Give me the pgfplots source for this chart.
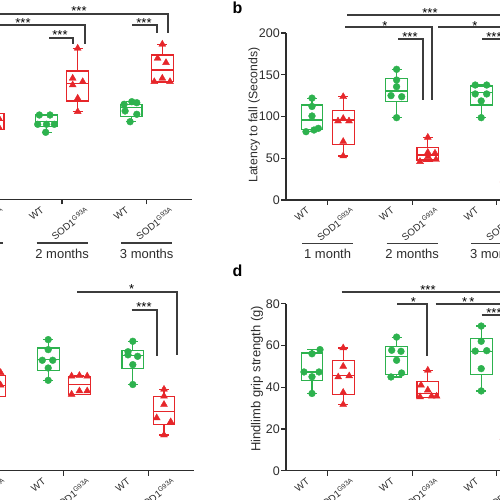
\documentclass[border=0pt]{standalone}
\usepackage{pgfplots}
\pgfplotsset{compat=1.18}
\usepgfplotslibrary{statistics}
\usepackage{fontspec}
\setmainfont{Liberation Sans}
\definecolor{G}{RGB}{45,178,78}
\definecolor{R}{RGB}{230,38,42}
\definecolor{T}{RGB}{45,45,45}
\definecolor{L}{RGB}{60,60,60}
\newcommand{\fs}[1]{\fontsize{#1}{#1}\selectfont}
% box: color, position, lower whisker, lower quartile, median, upper quartile, upper whisker
\newcommand{\bx}[7]{\addplot[#1, line width=1.1pt, boxplot/draw direction=y, boxplot prepared={draw position=#2, lower whisker=#3, lower quartile=#4, median=#5, upper quartile=#6, upper whisker=#7, box extend=21.7, whisker extend=10}] coordinates {};}
\tikzset{grp/.style={L, line width=1.6pt}}
\pgfplotsset{
 panel/.style={scale only axis, width=256pt, height=167pt, xmin=-26, xmax=230,
  anchor=south west, axis lines*=left, axis line style={line width=1.3pt, T},
  tick align=outside, major tick length=5pt, tick style={line width=1.3pt, T},
  xtick={15.6,100.2,184.8}, xticklabels={},
  extra x ticks={-6,38.6,78.6,123.2,163.2,207.8},
  extra x tick labels={WT,SOD1\textsuperscript{G93A},WT,SOD1\textsuperscript{G93A},WT,SOD1\textsuperscript{G93A}},
  extra x tick style={major tick length=0pt, tick label style={yshift=-6.7pt, rotate=38, anchor=north east, font=\fs{9.8}, text=T, inner sep=0pt}},
  yticklabel style={font=\fs{12.5}, text=T, inner sep=1pt},
  /pgf/number format/assume math mode=true, clip=false,
  ylabel style={text=T}},
}
\begin{document}
\begin{tikzpicture}
\path[use as bounding box] (0pt,0pt) rectangle (500pt,500pt);
\clip (0pt,0pt) rectangle (500pt,500pt);
% ---------------- panel a ----------------
\begin{axis}[panel, at={(-64.1pt,300.7pt)}, ymin=0, ymax=167, ytick=\empty]
\bx{R}{31.2}{60}{70}{79}{86}{95}
\bx{G}{84.6}{67}{72.6}{78}{84.3}{84.5}
\bx{R}{115.8}{87.6}{98.3}{116}{128.3}{151}
\bx{G}{169.2}{77.6}{82.6}{91.5}{95}{97.6}
\bx{R}{200.4}{117}{117.5}{129.3}{144.3}{155}
\addplot[only marks, mark=*, mark size=3.4pt, G] coordinates {(77.4,84.3)(88.1,84.3)(75.8,75)(84.6,75)(92.4,75)(83.8,67)
 (162.2,95)(169.9,97.6)(174.9,96.6)(163.2,88.3)(174.9,85)(168.2,77.6)};
\addplot[only marks, mark=triangle*, mark size=4pt, R] coordinates {(31.2,95)(37,81)(26,84)(31.2,74)(37,72)(31.2,60)
 (115.8,151)(110.8,121)(120.8,117.6)(110.8,114.3)(115.8,101)(115.8,87.6)
 (200.4,155)(195.7,141)(204.1,136.6)(192.4,117.6)(200.4,121)(208.1,117.6)};
\draw[grp] (axis cs:15.6,0) ++(-25.5pt,-43.5pt) -- ++(51pt,0pt);
\draw[grp] (axis cs:100.2,0) ++(-25.5pt,-43.5pt) -- ++(51pt,0pt);
\draw[grp] (axis cs:184.8,0) ++(-25.5pt,-43.5pt) -- ++(51pt,0pt);
\node[anchor=base, font=\fs{13}, text=T] at ([yshift=-59.3pt]axis cs:15.6,0) {1 month};
\node[anchor=base, font=\fs{13}, text=T] at ([yshift=-59.3pt]axis cs:100.2,0) {2 months};
\node[anchor=base, font=\fs{13}, text=T] at ([yshift=-59.3pt]axis cs:184.8,0) {3 months};
\end{axis}
% ---------------- panel b ----------------
\begin{axis}[panel, at={(286pt,300pt)}, ymin=0, ymax=200, ytick={0,50,100,150,200},
 ylabel={Latency to fall (Seconds)}, ylabel style={at={(axis description cs:-0.124,0.509)}, anchor=center, font=\fs{12.3}}]
\bx{G}{0}{81.8}{84.6}{95.8}{113.8}{122}
\bx{R}{31.2}{52.7}{67}{95.8}{107}{123.7}
\bx{G}{84.6}{98.6}{117.7}{130.5}{145.7}{156.5}
\bx{R}{115.8}{45.9}{47.9}{53.9}{62.7}{75}
\bx{G}{169.2}{98.6}{113.8}{128.5}{136.5}{137.7}
\bx{R}{200.4}{15}{19}{26}{32}{40}
\addplot[only marks, mark=*, mark size=3.4pt, G] coordinates {(0,122)(0,112)(0,100.6)(6.3,85.8)(-6,81.8)(2,83.8)
 (84.6,156.5)(84.6,143.7)(84.6,135.7)(79,125)(89.7,123.7)(84.6,98.6)
 (163.2,137.7)(174.7,137.7)(163.2,127)(174.7,127)(169.2,118.6)(169.2,98.6)};
\addplot[only marks, mark=triangle*, mark size=4pt, R] coordinates {(31.2,123.7)(26,94.6)(31.2,97.6)(37,94.6)(31.2,70)(31.2,52.7)
 (115.8,75)(115.8,57)(123,56)(108,46)(124,48.5)(116,52)
 (200.4,40)(191.5,24)(200.4,30)(207,28)(200.4,19)(200.4,15)};
\draw[grp] (axis cs:15.6,0) ++(-25.5pt,-43.5pt) -- ++(51pt,0pt);
\draw[grp] (axis cs:100.2,0) ++(-25.5pt,-43.5pt) -- ++(51pt,0pt);
\draw[grp] (axis cs:184.8,0) ++(-25.5pt,-43.5pt) -- ++(51pt,0pt);
\node[anchor=base, font=\fs{13}, text=T] at ([yshift=-58.8pt]axis cs:15.6,0) {1 month};
\node[anchor=base, font=\fs{13}, text=T] at ([yshift=-58.8pt]axis cs:100.2,0) {2 months};
\node[anchor=base, font=\fs{13}, text=T] at ([yshift=-58.8pt]axis cs:184.8,0) {3 months};
\end{axis}
% ---------------- panel c ----------------
\begin{axis}[panel, at={(-62.4pt,29.3pt)}, ymin=0, ymax=80, ytick=\empty]
\bx{G}{0}{38}{44}{50}{56}{60}
\bx{R}{31.2}{30}{35.4}{41}{45.7}{50}
\bx{G}{84.6}{43.3}{48.1}{53.2}{58.8}{62.8}
\bx{R}{115.8}{36.4}{36.6}{41.4}{45.3}{45.6}
\bx{G}{169.2}{41.3}{48.9}{55.2}{57.7}{62}
\bx{R}{200.4}{17.1}{22.1}{28.2}{35.7}{39}
\addplot[only marks, mark=*, mark size=3.4pt, G] coordinates {(0,60)(0,56)(-6,50)(6,50)(0,45)(0,38)
 (84.6,62.8)(84.6,58)(78.7,52.9)(89.1,52.9)(84.6,49.2)(84.6,43.3)
 (169.2,62)(164.4,57)(174,54.8)(164.4,55.5)(169.2,50.8)(169.2,41.3)};
\addplot[only marks, mark=triangle*, mark size=4pt, R] coordinates {(31.2,50)(37,47)(37,41)(26,41)(31.2,36)(31.2,30)
 (108,45.3)(115.8,45.6)(123.6,45.3)(108,36.6)(115.8,38.2)(123.6,38.2)
 (200.4,39)(200.4,35.7)(200.4,31.7)(193.1,25.3)(207.1,23.4)(200.4,17.1)};
\end{axis}
% ---------------- panel d ----------------
\begin{axis}[panel, at={(286pt,29.3pt)}, ymin=0, ymax=80, ytick={0,20,40,60,80},
 ylabel={Hindlimb grip strength (g)}, ylabel style={at={(axis description cs:-0.113,0.55)}, anchor=center, font=\fs{13}}]
\bx{G}{0}{37}{43}{47.3}{56.4}{58}
\bx{R}{31.2}{31.7}{36.5}{45.4}{52.9}{58.8}
\bx{G}{84.6}{44.9}{46.2}{54.8}{59.3}{64}
\bx{R}{115.8}{35}{35.2}{37}{42.9}{48.1}
\bx{G}{169.2}{38.2}{46.1}{57.3}{63.3}{69.3}
\bx{R}{200.4}{10}{13}{17}{21}{25}
\addplot[only marks, mark=*, mark size=3.4pt, G] coordinates {(8,58)(0,56)(-8,47.3)(7,47.3)(0,45)(0,37)
 (84.6,64)(79.7,57.7)(89,57.2)(84.6,52.9)(89.6,46.8)(79,44.9)
 (169.2,69.3)(169.2,62)(163.2,57.3)(174.7,57.5)(169.2,48.9)(169.2,38.2)};
\addplot[only marks, mark=triangle*, mark size=4pt, R] coordinates {(31.2,58.8)(31.2,50)(26.2,44.9)(37.2,45.4)(31.2,37.5)(31.2,31.7)
 (115.8,48.1)(109,41)(115.8,38.6)(108,35.4)(119.6,35.7)(124.6,35.7)
 (200.4,25)(191.5,16)(200.4,21)(206,18)(200.4,13)(200.4,10)};
\end{axis}
% ---------------- significance brackets ----------------
\begin{scope}[L, line width=1.8pt]
% a
\draw (-10pt,486pt) -- (168pt,486pt) -- (168pt,467pt);
\draw (-10pt,475pt) -- (85pt,475pt) -- (85pt,456pt);
\draw (49pt,462pt) -- (73pt,462pt) -- (73pt,456pt);
\draw (132pt,475pt) -- (157pt,475pt) -- (157pt,467pt);
% b
\draw (347pt,485pt) -- (510pt,485pt);
\draw (345pt,473pt) -- (432pt,473pt) -- (432pt,400pt);
\draw (398pt,461pt) -- (423pt,461pt) -- (423pt,400pt);
\draw (438pt,473pt) -- (510pt,473pt);
\draw (482pt,461pt) -- (510pt,461pt);
% c
\draw (77.3pt,208.3pt) -- (176.7pt,208.3pt) -- (176.7pt,145pt);
\draw (131.7pt,190pt) -- (156.7pt,190pt) -- (156.7pt,144pt);
% d
\draw (341.7pt,207.7pt) -- (510pt,207.7pt);
\draw (397.3pt,196pt) -- (427.3pt,196pt) -- (427.3pt,144pt);
\draw (435.7pt,196pt) -- (510pt,196pt);
\draw (481.7pt,185pt) -- (510pt,185pt);
\end{scope}
\begin{scope}[every node/.style={anchor=base, font=\fs{13}, text=black, inner sep=0pt}]
\node at (79pt,484.5pt) {***};
\node at (23pt,472.5pt) {***};
\node at (60pt,460.5pt) {***};
\node at (144pt,472.5pt) {***};
\node at (430pt,482.5pt) {***};
\node at (385pt,469.8pt) {*};
\node at (410pt,458.5pt) {***};
\node at (475pt,469.8pt) {*};
\node at (494pt,458.5pt) {***};
\node at (131.7pt,206.2pt) {*};
\node at (144pt,188.5pt) {***};
\node at (428pt,205.8pt) {***};
\node at (413.3pt,193.5pt) {*};
\node at (468.3pt,193.5pt) {*\,*};
\node at (494pt,182.5pt) {***};
\end{scope}
\node[anchor=base west, font=\fs{16}\bfseries, inner sep=0pt] at (232.5pt,486.7pt) {b};
\node[anchor=base west, font=\fs{16}\bfseries, inner sep=0pt] at (232.5pt,223pt) {d};
\end{tikzpicture}
\end{document}
